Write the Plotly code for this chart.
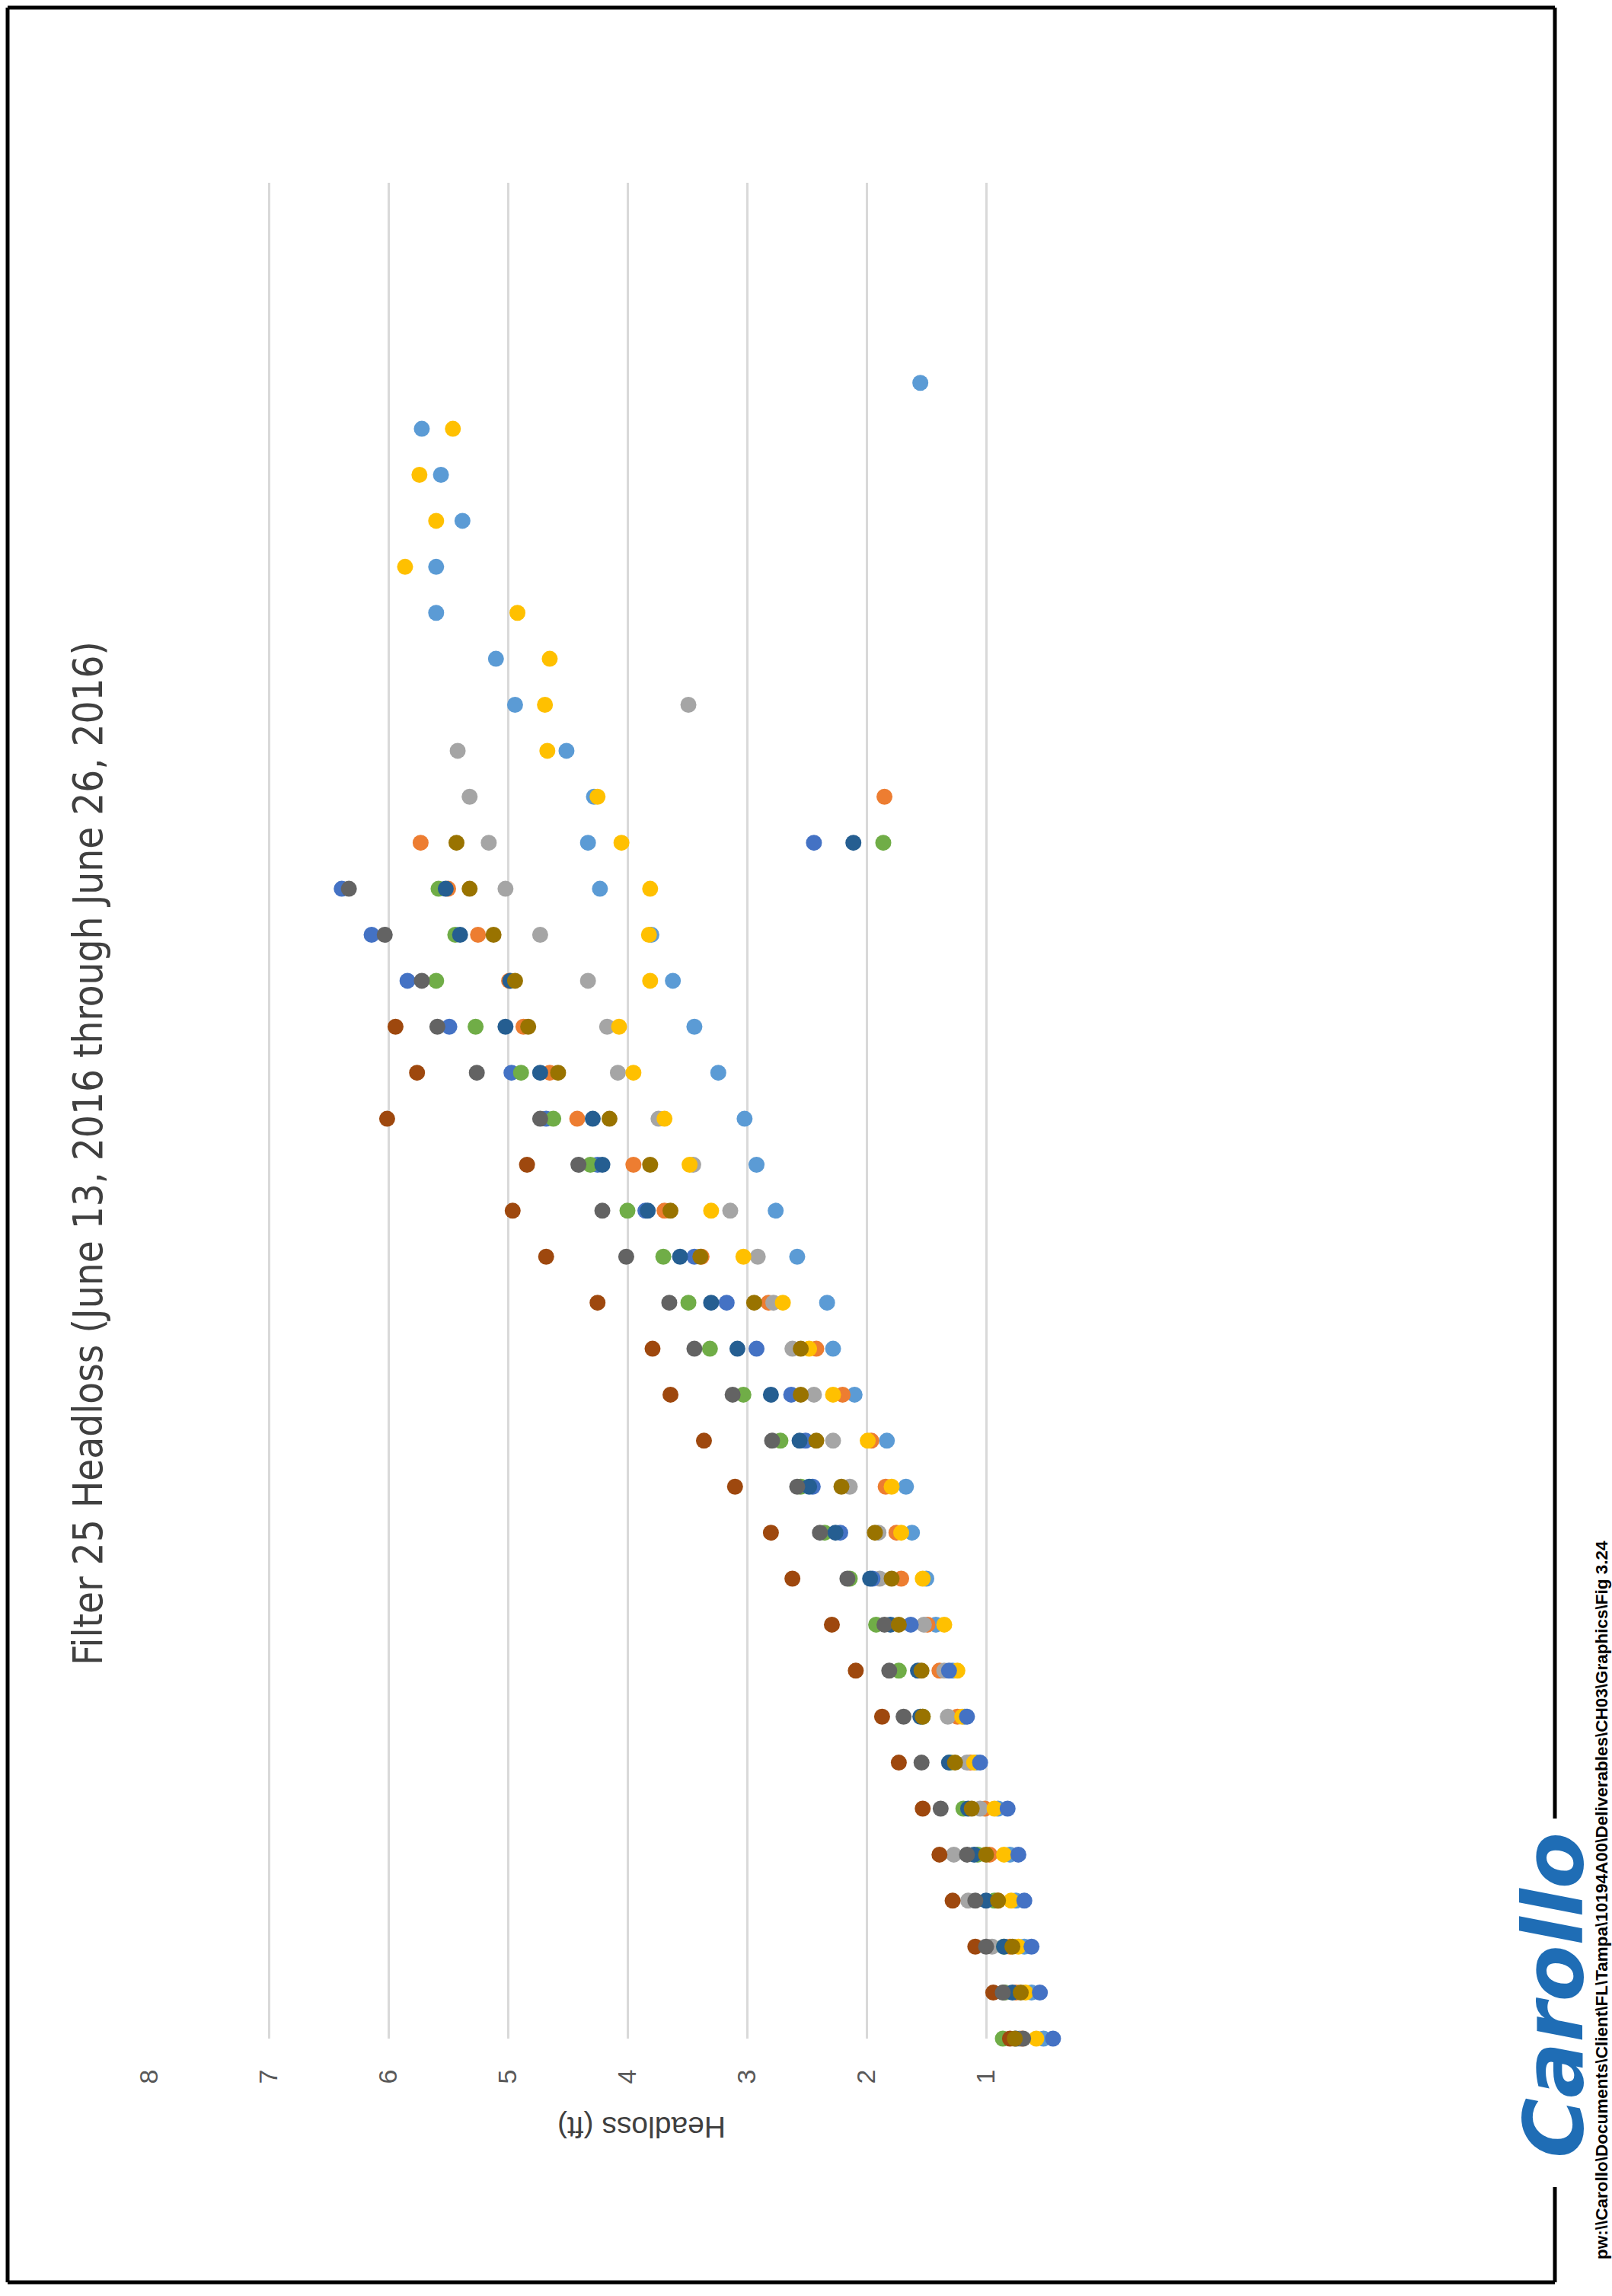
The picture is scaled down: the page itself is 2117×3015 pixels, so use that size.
import plotly.graph_objects as go

# ---------------- data (headloss in ft, one value per hour of the run) ----------------
hours = list(range(37))

s_lightblue = [0.52, 0.62, 0.68, 0.75, 0.80, 0.90, 1.08, 1.18, 1.28, 1.42, 1.50, 1.62, 1.67, 1.83,
               2.10, 2.28, 2.33, 2.58, 2.76, 2.92, 3.02, 3.24, 3.44, 3.62, 3.80, 4.23, 4.33, 4.28,
               4.51, 4.94, 5.10, 5.60, 5.60, 5.38, 5.56, 5.72, 1.55]
s_orange = [0.70, 0.75, 0.80, 0.90, 0.97, 1.01, 1.13, 1.24, 1.39, 1.49, 1.71, 1.75, 1.84, 1.96,
            2.20, 2.42, 2.82, 3.38, 3.69, 3.95, 4.42, 4.65, 4.87, 4.99, 5.25, 5.50, 5.73, 1.85]
s_gray = [0.72, 0.84, 0.95, 1.15, 1.27, 1.05, 1.16, 1.32, 1.35, 1.52, 1.89, 1.90, 2.14, 2.28,
          2.44, 2.62, 2.78, 2.91, 3.14, 3.45, 3.74, 4.08, 4.17, 4.33, 4.73, 5.02, 5.16, 5.32,
          5.42, 3.49]
s_gold = [0.58, 0.67, 0.73, 0.79, 0.85, 0.93, 1.10, 1.20, 1.24, 1.35, 1.53, 1.71, 1.79, 1.99,
          2.28, 2.48, 2.70, 3.03, 3.30, 3.48, 3.69, 3.95, 4.07, 3.81, 3.82, 3.81, 4.05, 4.25,
          4.67, 4.69, 4.65, 4.92, 5.86, 5.60, 5.74, 5.46]
s_blue = [0.44, 0.55, 0.62, 0.68, 0.73, 0.82, 1.05, 1.16, 1.31, 1.63, 1.95, 2.22, 2.45, 2.51,
          2.63, 2.92, 3.17, 3.44, 3.85, 4.25, 4.68, 4.97, 5.49, 5.84, 6.14, 6.39, 2.44]
s_green = [0.86, 0.85, 0.85, 0.93, 1.07, 1.19, 1.30, 1.53, 1.73, 1.92, 2.14, 2.35, 2.55, 2.72,
           3.03, 3.31, 3.49, 3.70, 4.00, 4.31, 4.62, 4.89, 5.27, 5.60, 5.44, 5.58, 1.86]
s_darkblue = [0.75, 0.78, 0.85, 1.00, 1.10, 1.15, 1.31, 1.55, 1.57, 1.80, 1.97, 2.26, 2.48, 2.56,
              2.80, 3.08, 3.30, 3.56, 3.83, 4.21, 4.29, 4.73, 5.02, 4.98, 5.40, 5.52, 2.11]
s_brown = [0.80, 0.94, 1.09, 1.28, 1.39, 1.53, 1.73, 1.87, 2.09, 2.29, 2.62, 2.80, 3.10, 3.36,
           3.64, 3.79, 4.25, 4.68, 4.96, 4.84, 6.01, 5.76, 5.94]
s_darkgray = [0.69, 0.86, 1.00, 1.09, 1.16, 1.38, 1.54, 1.69, 1.81, 1.85, 2.16, 2.39, 2.58, 2.79,
              3.12, 3.44, 3.65, 4.01, 4.21, 4.41, 4.73, 5.26, 5.59, 5.72, 6.03, 6.33]
s_olive = [0.76, 0.71, 0.78, 0.90, 1.00, 1.12, 1.26, 1.53, 1.54, 1.73, 1.79, 1.93, 2.21, 2.42,
           2.55, 2.55, 2.94, 3.39, 3.64, 3.81, 4.15, 4.58, 4.83, 4.94, 5.12, 5.32, 5.43]

series_values = [s_lightblue, s_orange, s_gray, s_gold, s_blue, s_green,
                 s_darkblue, s_brown, s_darkgray, s_olive]
series_names = ["Run 1", "Run 2", "Run 3", "Run 4", "Run 5", "Run 6",
                "Run 7", "Run 8", "Run 9", "Run 10"]
series_colors = ["#5B9BD5", "#ED7D31", "#A5A5A5", "#FFC000", "#4472C4", "#70AD47",
                 "#255E91", "#9E480E", "#636363", "#997300"]

headloss_ticks = [1, 2, 3, 4, 5, 6, 7, 8]
headloss_ticktext = ["1", "2", "3", "4", "5", "6", "7", "8"]

title_text = "Filter 25 Headloss (June 13, 2016 through June 26, 2016)"
axis_title_text = "Headloss (ft)"
path_text = "pw:\\\\Carollo\\Documents\\Client\\FL\\Tampa\\10194A00\\Deliverables\\CH03\\Graphics\\Fig 3.24"
logo_text = "Carollo"

# ---------------- page geometry (pixels) ----------------
W, H = 2117, 3015
PL, PR, PT, PB = 196, 1452, 240, 2677   # plot area


def px(xp):
    return (xp - PL) / (PR - PL)


def py(yp):
    return (PB - yp) / (PB - PT)


fig = go.Figure()
for vals, name, col in zip(series_values, series_names, series_colors):
    fig.add_trace(go.Scatter(
        x=vals, y=hours[:len(vals)], mode="markers", name=name,
        marker=dict(size=21, color=col, line=dict(width=0)),
        cliponaxis=False, showlegend=False))

fig.update_layout(
    width=W, height=H,
    margin=dict(l=PL, r=W - PR, t=PT, b=H - PB),
    paper_bgcolor="white", plot_bgcolor="white",
    xaxis=dict(range=[8, 0], tickvals=headloss_ticks, ticktext=headloss_ticktext,
               tickangle=-90, showgrid=True, gridcolor="#D9D9D9", gridwidth=3,
               zeroline=False, showline=False, ticks="outside", ticklen=26,
               tickcolor="rgba(0,0,0,0)",
               tickfont=dict(family="Liberation Sans, Arial, sans-serif", size=34, color="#595959")),
    yaxis=dict(range=[0, 40.35], showgrid=False, showticklabels=False,
               zeroline=False, showline=False, ticks=""),
)

ann = []
ann.append(dict(text=title_text, x=px(115), y=py(1515), xref="paper", yref="paper",
                showarrow=False, textangle=-90, xanchor="center", yanchor="middle",
                font=dict(family="DejaVu Sans Condensed, sans-serif",
                          size=52.5, color="#404040")))
ann.append(dict(text=axis_title_text, x=px(843), y=py(2794), xref="paper", yref="paper",
                showarrow=False, textangle=180, xanchor="center", yanchor="middle",
                font=dict(family="Liberation Sans, Arial, sans-serif", size=39, color="#404040")))
ann.append(dict(text="<b>" + path_text + "</b>", x=px(2103), y=py(2495), xref="paper", yref="paper",
                showarrow=False, textangle=-90, xanchor="center", yanchor="middle",
                font=dict(family="Liberation Sans, Arial, sans-serif",
                          size=22.5, color="black")))
ann.append(dict(text="<b><i>" + logo_text + "</i></b>", x=px(2040), y=py(2620), xref="paper", yref="paper",
                showarrow=False, textangle=-90, xanchor="center", yanchor="middle",
                font=dict(family="DejaVu Sans, sans-serif", size=108, color="#1F6DB5")))
fig.update_layout(annotations=ann)

frame = dict(color="black", width=5)
shapes = [
    dict(type="line", xref="paper", yref="paper", x0=px(10), x1=px(2042), y0=py(10), y1=py(10), line=frame),
    dict(type="line", xref="paper", yref="paper", x0=px(10), x1=px(10), y0=py(10), y1=py(2997), line=frame),
    dict(type="line", xref="paper", yref="paper", x0=px(10), x1=px(2042), y0=py(2997), y1=py(2997), line=frame),
    dict(type="line", xref="paper", yref="paper", x0=px(2042), x1=px(2042), y0=py(10), y1=py(2388), line=frame),
    dict(type="line", xref="paper", yref="paper", x0=px(2042), x1=px(2042), y0=py(2872), y1=py(2997), line=frame),
]
fig.update_layout(shapes=shapes)

fig.write_html("out.html")
